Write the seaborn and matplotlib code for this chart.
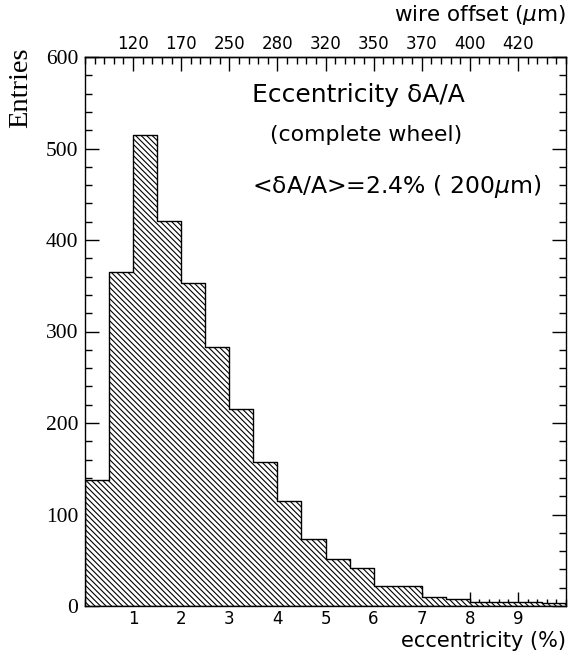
import numpy as np
import pandas as pd
import matplotlib
matplotlib.use("Agg")
import matplotlib.pyplot as plt
import seaborn as sns
from matplotlib.ticker import MultipleLocator

# Eccentricity histogram, 0.5 % bins from 0 to 10 %
bin_edges = [0.0, 0.5, 1.0, 1.5, 2.0, 2.5, 3.0, 3.5, 4.0, 4.5, 5.0,
             5.5, 6.0, 6.5, 7.0, 7.5, 8.0, 8.5, 9.0, 9.5, 10.0]
entries = [138, 365, 515, 421, 353, 283, 215, 157, 115, 73,
           51, 41, 22, 22, 10, 8, 4, 4, 4, 3]

# Wire offset equivalents shown on the top axis
offset_positions = [1, 2, 3, 4, 5, 6, 7, 8, 9]
offset_labels = ["120", "170", "250", "280", "320", "350", "370", "400", "420"]

sns.set_style("ticks")
plt.rcParams["font.family"] = ["DejaVu Sans"]
plt.rcParams["text.color"] = "black"
plt.rcParams["xtick.color"] = "black"
plt.rcParams["ytick.color"] = "black"
plt.rcParams["xtick.labelcolor"] = "black"
plt.rcParams["ytick.labelcolor"] = "black"
plt.rcParams["hatch.linewidth"] = 0.8

centers = [(a + b) / 2 for a, b in zip(bin_edges[:-1], bin_edges[1:])]
df = pd.DataFrame({"ecc": centers, "n": entries})

fig = plt.figure(figsize=(5.73, 6.52), dpi=100)
ax = fig.add_axes([85 / 573, 1 - 606 / 652, (566 - 85) / 573, (606 - 57) / 652])

sns.histplot(data=df, x="ecc", weights="n", bins=bin_edges, element="step",
             fill=True, facecolor="white", edgecolor="black", linewidth=1.0,
             alpha=1.0, ax=ax)
for coll in ax.collections:
    coll.set_hatch("\\\\\\\\\\\\")
    coll.set_facecolor("white")
    coll.set_edgecolor("black")

ax.set_xlim(0, 10)
ax.set_ylim(0, 600)
ax.set_xlabel("")
ax.set_ylabel("")

ax.set_xticks([1, 2, 3, 4, 5, 6, 7, 8, 9])
ax.xaxis.set_minor_locator(MultipleLocator(0.2))
ax.set_yticks([0, 100, 200, 300, 400, 500, 600])
ax.yaxis.set_minor_locator(MultipleLocator(20))
for sp in ax.spines.values():
    sp.set_visible(True)
    sp.set_linewidth(1.0)
    sp.set_color("black")

ax.tick_params(axis="both", which="major", direction="in", length=10, width=1,
               color="black")
ax.tick_params(axis="both", which="minor", direction="in", length=5, width=1,
               color="black")
ax.tick_params(axis="y", which="both", right=True, left=True)
ax.tick_params(axis="x", labelsize=12, pad=3, labelcolor="black")
ax.tick_params(axis="y", labelsize=15.5, pad=5, labelcolor="black")
for lab in ax.get_xticklabels():
    lab.set_fontfamily("DejaVu Sans")
for lab in ax.get_yticklabels():
    lab.set_fontfamily("Liberation Serif")

top = ax.secondary_xaxis("top")
top.set_xticks(offset_positions)
top.set_xticklabels(offset_labels)
top.xaxis.set_minor_locator(MultipleLocator(0.2))
top.tick_params(which="major", direction="in", length=10, width=1, labelsize=12,
                pad=3, color="black", labelcolor="black")
top.tick_params(which="minor", direction="in", length=5, width=1, color="black")
top.spines["top"].set_linewidth(1.0)

fig.text(566 / 573, 1 - 21 / 652, "wire offset ($\\mu$m)", ha="right",
         va="baseline", fontsize=15.5)
fig.text(566 / 573, 1 - 647 / 652, "eccentricity (%)", ha="right",
         va="baseline", fontsize=15)
fig.text(21 / 573, 1 - 47 / 652, "Entries", rotation=90, ha="center", va="top",
         fontsize=20.5, family="Liberation Serif")

fig.text(252 / 573, 1 - 95 / 652, "Eccentricity δA/A", fontsize=18,
         ha="left", va="center")
fig.text(270 / 573, 1 - 135 / 652, "(complete wheel)", fontsize=15.8,
         ha="left", va="center")
fig.text(252 / 573, 1 - 187 / 652, "<δA/A>=2.4% ( 200$\\mu$m)", fontsize=16.9,
         ha="left", va="center")

fig.savefig("out.png", dpi=100)
